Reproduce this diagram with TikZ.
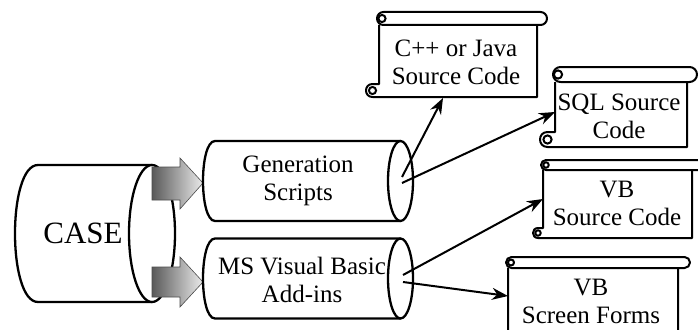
\documentclass[tikz,border=0pt]{standalone}
\usepackage{fontspec}
\setmainfont{Liberation Serif}
\usetikzlibrary{arrows.meta}
\newcommand\scrollbox[6]{% L R Yt T B Rend
  \pgfmathsetmacro\sr{(#4-#3)/2}
  \pgfmathsetmacro\sLm{#1-\sr}
  \pgfmathsetmacro\sLc{#1-\sr-1.333*\sr}
  \pgfmathsetmacro\sBm{#5-2*\sr}
  \pgfmathsetmacro\sBc{#5-\sr}
  \pgfmathsetmacro\sTm{#3+\sr}
  \pgfmathsetmacro\scr{0.55*\sr}
  \draw[scrl] (#1,#4) -- (#1,\sBm) -- (\sLm,\sBm) .. controls (\sLc,\sBm) and (\sLc,#5) .. (\sLm,#5) -- (#2,#5) -- (#2,#4);
  \draw[scrl] (\sLm,\sBc) circle [radius=\scr pt];
  \draw[scrl, rounded corners=\sr pt] (#1-2,#3) rectangle (#6,#4);
  \draw[scrl] (#1+3,\sTm) circle [radius=\scr pt];
}
\begin{document}
\begin{tikzpicture}[x=1pt,y=-1pt,
  cyl/.style={line width=2.3pt, fill=white},
  scrl/.style={line width=2pt, line join=round},
  conn/.style={line width=2pt, -{Stealth[length=16pt,width=12pt]}},
  blockarrow/.style={draw=black!70, line width=0.6pt, left color=black!65, right color=black!8},
  txt/.style={font=\fontsize{25}{28}\selectfont, align=center, inner sep=0pt}]
\useasboundingbox (0,0) rectangle (698,329);
\fill[white] (0,0) rectangle (698,329);
\clip (0,0) rectangle (698,329);

% CASE cylinder
\draw[cyl] (152,165) -- (38,165) .. controls (7.33,165) and (7.33,302) .. (38,302) -- (152,302);
\draw[cyl] (152,233.5) ellipse [x radius=23pt, y radius=68.5pt];
\node[txt, font=\fontsize{31}{34}\selectfont] (case) at (83,233.5) {CASE};

% block arrows
\draw[blockarrow] (152,167) -- (180,167) -- (180,158) -- (203,183) -- (180,209) -- (180,200) -- (152,200) -- cycle;
\draw[blockarrow] (152,267) -- (180,267) -- (180,257) -- (203,282) -- (180,307) -- (180,297) -- (152,297) -- cycle;

% Generation Scripts cylinder
\draw[cyl] (400.5,141) -- (215,141) .. controls (199,141) and (199,221) .. (215,221) -- (400.5,221);
\draw[cyl] (400.5,181) ellipse [x radius=12.5pt, y radius=40pt];
\node[txt] (gen) at (298,181) {Generation\\Scripts};

% MS Visual Basic cylinder
\draw[cyl] (400.5,238.5) -- (215,238.5) .. controls (199,238.5) and (199,318.5) .. (215,318.5) -- (400.5,318.5);
\draw[cyl] (400.5,278.5) ellipse [x radius=12.5pt, y radius=40pt];
\node[txt] (ms) at (302,280) {MS Visual Basic\\Add-ins};

% scrolls
\scrollbox{379}{537}{12}{25}{97}{547}
\node[txt] (s1) at (456,62.5) {C++ or Java\\Source Code};
\scrollbox{555}{687}{67}{82}{147}{697}
\node[txt] (s2) at (619,116.5) {SQL Source\\Code};
\scrollbox{543}{692}{160}{170}{238}{705}
\node[txt] (s3) at (617,203) {VB\\Source Code};
\scrollbox{508}{678}{257}{268}{345}{690}
\node[txt] (s4) at (591,301) {VB\\Screen Forms};

% connectors
\coordinate (g1) at (402,177);
\coordinate (g2) at (402,183);
\coordinate (m1) at (403,275);
\coordinate (m2) at (403,282);
\coordinate (t1) at (443,98);
\coordinate (t2) at (555,112);
\coordinate (t3) at (543,199);
\coordinate (t4) at (508,296);
\draw[conn] (g1) -- (t1);
\draw[conn] (g2) -- (t2);
\draw[conn] (m1) -- (t3);
\draw[conn] (m2) -- (t4);
\end{tikzpicture}
\end{document}
